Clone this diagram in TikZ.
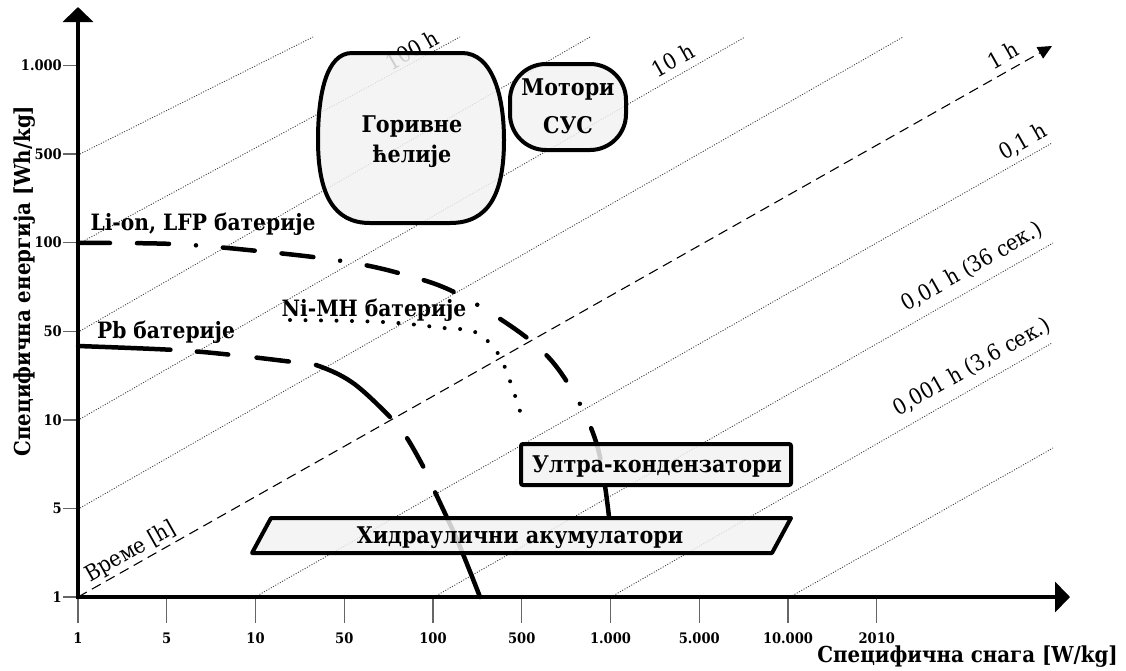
\documentclass[tikz,border=0pt]{standalone}
\usepackage{fontspec}
\setmainfont{DejaVu Serif Condensed}
\usetikzlibrary{arrows.meta}

\begin{document}
\begin{tikzpicture}[x=1pt,y=-1pt,
  axis/.style={line width=4.5pt},
  guide/.style={line width=0.9pt, black!75, dash pattern=on 1pt off 1.6pt},
  timeline/.style={line width=1.1pt, dash pattern=on 10pt off 6pt},
  tickmark/.style={line width=1.4pt, black!60},
  ticklabel/.style={font=\fontsize{14.5}{16}\selectfont\bfseries, inner sep=0pt},
  curvelabel/.style={font=\fontsize{22.5}{26}\selectfont\bfseries, inner sep=0pt},
  boxlabel/.style={font=\fontsize{23}{26}\selectfont\bfseries, inner sep=0pt},
  timelabel/.style={font=\fontsize{22}{25}\selectfont, rotate=29.5, inner sep=0pt},
  blob/.style={draw, line width=4pt, fill=black!5, fill opacity=0.85},
  curve/.style={line width=4.5pt, line cap=round},
]
\useasboundingbox (0,0) rectangle (1126,670);

% time lines (constant discharge time)
\draw[guide] (80,154) -- (313,37);
\draw[guide] (80,243) -- (460,37);
\draw[guide] (80,331) -- (590,37);
\draw[guide] (80,419) -- (745,37);
\draw[guide] (80,508) -- (903,37);
\draw[guide] (255,597) -- (1052,143);
\draw[guide] (434,597) -- (1053,243);
\draw[guide] (611,597) -- (1052,343);
\draw[guide] (790,597) -- (1053,448);
\coordinate (o) at (78,597);
\coordinate (tend) at (1052,46);
\draw[timeline, -{Triangle[length=14pt,width=13pt]}] (o) -- (tend);

% time labels
\node[timelabel] (tl0) at (131,552) {Време [h]};
\node[timelabel] (tl1) at (412,50) {100 h};
\node[timelabel] (tl2) at (673,60) {10 h};
\node[timelabel] (tl3) at (1003,55) {1 h};
\node[timelabel] (tl4) at (1023,142) {0,1 h};
\node[timelabel] (tl5) at (972,267) {0,01 h (36 сек.)};
\node[timelabel] (tl6) at (972,367) {0,001 h (3,6 сек.)};

% ticks
\foreach \lab [count=\i from 0] in {1,5,10,50,100,500,1.000,5.000,10.000,2010} {
  \draw[tickmark] (78+88.75*\i,597) -- ++(0,26);
  \node[ticklabel] (xt\i) at (78+88.75*\i,638) {\lab};
}
\foreach \lab [count=\i from 0] in {1,5,10,50,100,500,1.000} {
  \draw[tickmark] (63,597-88.6*\i) -- (78,597-88.6*\i);
  \node[ticklabel, anchor=east] (yt\i) at (62,597-88.6*\i) {\lab};
}

% Li-ion / LFP
\draw[curve, dash pattern=on 32pt off 27pt on 32pt off 27pt on 0pt off 27pt]
  plot[smooth, tension=0.6] coordinates {(78,243) (173,244) (258,251) (342,261) (402,274)
    (458,294) (531,341) (569,385) (597,445) (609,517)};
% Ni-MH
\draw[line width=4pt, line cap=round, dash pattern=on 0pt off 15.5pt]
  plot[smooth, tension=0.6] coordinates {(290,320) (383,322) (444,328) (475,332) (497,352)
    (510,381) (524,424)};
% Pb
\draw[curve, dash pattern=on 92.5pt off 26.5pt on 31.5pt off 28.5pt on 32.5pt off 27.5pt
    on 91.5pt off 27.5pt on 32.5pt off 28.5pt on 200pt]
  plot[smooth, tension=0.6] coordinates {(78,346) (175,350) (233,355) (293,362) (316,365)
    (353,383) (393,420) (407,438) (425,470) (435,492) (458,542) (480,597)};

% storage technologies
\draw[blob] (352,53) -- (462,53) .. controls (492,53) and (504,95) .. (504,140)
  .. controls (504,195) and (488,223) .. (450,223) -- (370,223)
  .. controls (334,223) and (318,195) .. (318,140)
  .. controls (318,95) and (326,53) .. (352,53) -- cycle;
\node[boxlabel, anchor=base] (fcA) at (412,132) {Горивне};
\node[boxlabel, anchor=base] (fcB) at (412,162) {ћелије};

\node[blob, rounded corners=36pt, minimum width=116pt, minimum height=86pt] (ice) at (568,107) {};
\node[boxlabel, anchor=base] (iceA) at (568,95) {Мотори};
\node[boxlabel, anchor=base] (iceB) at (568,133) {СУС};

\node[blob, rounded corners=2pt, minimum width=270pt, minimum height=41pt] (uc) at (656,464.5) {};
\node[boxlabel, anchor=base] (ucA) at (657,472) {Ултра-кондензатори};

\draw[blob, line join=round] (271,518) -- (791,518) -- (772,553) -- (252,553) -- cycle;
\node[boxlabel, anchor=base] (hyd) at (520,543) {Хидраулични акумулатори};

% curve names
\node[curvelabel, anchor=base] (li) at (203,230) {Li-on, LFP батерије};
\node[curvelabel, anchor=base] (nimh) at (374,316) {Ni-MH батерије};
\node[curvelabel, anchor=base] (pb) at (166,338) {Pb батерије};

% axes
\draw[axis, -{Triangle[length=15pt,width=30pt]}] (78,599) -- (78,7);
\draw[axis, -{Triangle[length=15pt,width=30pt]}] (76,597) -- (1070,597);
\node[font=\fontsize{22}{26}\selectfont\bfseries, rotate=90, inner sep=0pt] (ylab) at (25,281)
  {Специфична енергија [Wh/kg]};
\node[font=\fontsize{22}{26}\selectfont\bfseries, anchor=base east, inner sep=0pt] (xlab) at (1118,662)
  {Специфична снага [W/kg]};
\end{tikzpicture}
\end{document}
